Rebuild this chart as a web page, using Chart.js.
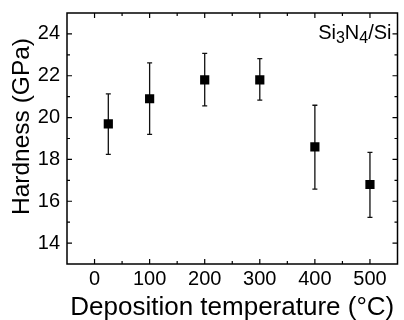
<!DOCTYPE html>
<html>
<head>
<meta charset="utf-8">
<script src="https://cdn.jsdelivr.net/npm/chart.js@4"></script>
<style>
  html, body { margin: 0; padding: 0; background: #fff; }
  #wrap { width: 404px; height: 320px; }
</style>
</head>
<body>
<div id="wrap"><canvas id="chart" width="404" height="320"></canvas></div>
<script>
// données
const temperatures = [25, 100, 200, 300, 400, 500];
const hardness = [19.7, 20.9, 21.8, 21.8, 18.6, 16.8];
const errorHigh = [21.13, 22.62, 23.07, 22.82, 20.59, 18.34];
const errorLow = [18.24, 19.2, 20.56, 20.83, 16.58, 15.23];
const xTicks = [0, 100, 200, 300, 400, 500];
const yTicks = [14, 16, 18, 20, 22, 24];
const sampleParts = [['Si', false], ['3', true], ['N', false], ['4', true], ['/Si', false]];
const yTitle = 'Hardness (GPa)';

const FONT = "'Liberation Sans', Arial, sans-serif";

// barres d'erreur, cadre, graduations, titre Y, étiquette
const decor = {
  id: 'decor',
  beforeDatasetsDraw(chart) {
    const { ctx, scales: { x, y } } = chart;
    ctx.save();
    ctx.strokeStyle = '#111';
    ctx.lineWidth = 1.3;
    temperatures.forEach((t, i) => {
      const px = x.getPixelForValue(t);
      const top = y.getPixelForValue(errorHigh[i]);
      const bot = y.getPixelForValue(errorLow[i]);
      ctx.beginPath();
      ctx.moveTo(px, top); ctx.lineTo(px, bot);
      ctx.moveTo(px - 2.5, top); ctx.lineTo(px + 2.5, top);
      ctx.moveTo(px - 2.5, bot); ctx.lineTo(px + 2.5, bot);
      ctx.stroke();
    });
    ctx.restore();
  },
  afterDraw(chart) {
    const { ctx, chartArea: a, scales: { x, y } } = chart;
    ctx.save();
    ctx.strokeStyle = '#000';
    ctx.lineWidth = 1.5;
    ctx.strokeRect(a.left, a.top, a.right - a.left, a.bottom - a.top);

    ctx.lineWidth = 1.2;
    ctx.beginPath();
    const xMarks = [];
    xTicks.forEach((v, i) => {
      xMarks.push([v, 5]);
      if (i > 0) xMarks.push([(v + xTicks[i - 1]) / 2, 3]);
    });
    xMarks.forEach(([v, len]) => {
      const px = x.getPixelForValue(v);
      ctx.moveTo(px, a.bottom); ctx.lineTo(px, a.bottom - len);
      ctx.moveTo(px, a.top); ctx.lineTo(px, a.top + len);
    });
    const yMarks = [];
    yTicks.forEach((v, i) => {
      yMarks.push([v, 5]);
      if (i > 0) yMarks.push([(v + yTicks[i - 1]) / 2, 3]);
    });
    yMarks.forEach(([v, len]) => {
      const py = y.getPixelForValue(v);
      ctx.moveTo(a.left, py); ctx.lineTo(a.left + len, py);
      ctx.moveTo(a.right, py); ctx.lineTo(a.right - len, py);
    });
    ctx.stroke();

    // titre de l'axe Y (un peu au-dessus du centre, comme l'original)
    ctx.fillStyle = '#000';
    ctx.save();
    ctx.translate(22, 126.5);
    ctx.rotate(-Math.PI / 2);
    ctx.font = '24.5px ' + FONT;
    ctx.textAlign = 'center';
    ctx.textBaseline = 'middle';
    ctx.fillText(yTitle, 0, 0);
    ctx.restore();

    // étiquette Si3N4/Si
    ctx.textBaseline = 'alphabetic';
    let total = 0;
    sampleParts.forEach(([txt, sub]) => {
      ctx.font = (sub ? '16px ' : '20px ') + FONT;
      total += ctx.measureText(txt).width;
    });
    let cx = a.right - 6 - total;
    const base = a.top + 26;
    sampleParts.forEach(([txt, sub]) => {
      ctx.font = (sub ? '16px ' : '20px ') + FONT;
      ctx.fillText(txt, cx, sub ? base + 3.5 : base);
      cx += ctx.measureText(txt).width;
    });
    ctx.restore();
  }
};

new Chart(document.getElementById('chart'), {
  type: 'scatter',
  data: {
    datasets: [{
      data: temperatures.map((t, i) => ({ x: t, y: hardness[i] })),
      pointStyle: 'rect',
      pointRadius: 6.5,
      pointHoverRadius: 6.5,
      backgroundColor: '#000',
      borderColor: '#000',
      borderWidth: 0
    }]
  },
  options: {
    responsive: false,
    animation: false,
    devicePixelRatio: 1,
    layout: { padding: { top: 13, right: 2, left: 0, bottom: 0 } },
    plugins: { legend: { display: false }, tooltip: { enabled: false } },
    scales: {
      x: {
        type: 'linear',
        min: -50,
        max: 550,
        afterBuildTicks: s => { s.ticks = xTicks.map(v => ({ value: v })); },
        afterFit: s => { s.height = 56; s.paddingLeft = 0; s.paddingRight = 0; },
        grid: { display: false, drawTicks: false },
        border: { display: false },
        ticks: { color: '#000', padding: 3, font: { family: FONT, size: 20 } },
        title: {
          display: true,
          text: 'Deposition temperature (°C)',
          color: '#000',
          font: { family: FONT, size: 26, lineHeight: 1 },
          padding: { top: 0, bottom: -1 }
        }
      },
      y: {
        min: 13,
        max: 25,
        afterBuildTicks: s => { s.ticks = yTicks.map(v => ({ value: v })); },
        afterFit: s => { s.width = 67; s.paddingTop = 0; s.paddingBottom = 0; },
        grid: { display: false, drawTicks: false },
        border: { display: false },
        ticks: { color: '#000', padding: 7, font: { family: FONT, size: 20 } },
        title: { display: false }
      }
    }
  },
  plugins: [decor]
});
</script>
</body>
</html>
